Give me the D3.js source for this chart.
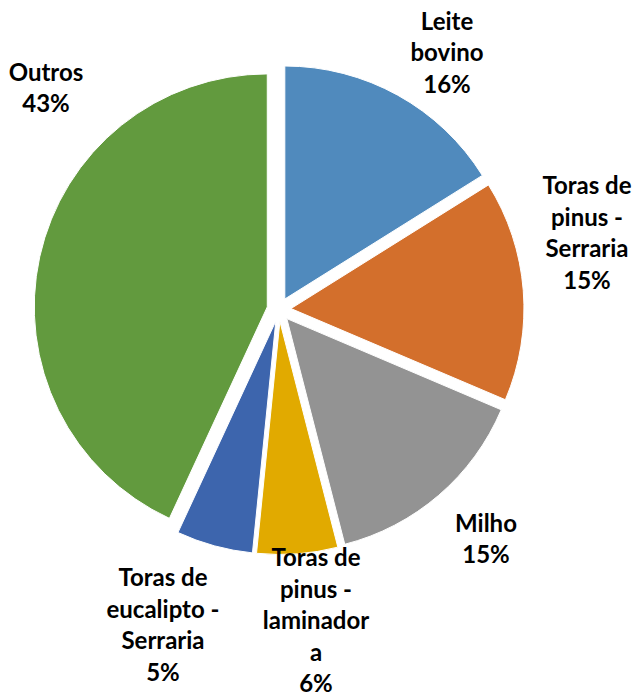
<!DOCTYPE html>
<html>
<head>
<meta charset="utf-8">
<script src="https://cdn.jsdelivr.net/npm/d3@7"></script>
<style>
  html, body { margin: 0; padding: 0; background: #fff; }
  svg { display: block; }
</style>
</head>
<body>
<svg id="chart" width="634" height="697"></svg>
<script>
// ---- data ----
const categories = [
  "Leite bovino",
  "Toras de pinus - Serraria",
  "Milho",
  "Toras de pinus - laminadora",
  "Toras de eucalipto - Serraria",
  "Outros"
];
// label text lines as wrapped in the original
const labelLines = [
  ["Leite", "bovino"],
  ["Toras de", "pinus -", "Serraria"],
  ["Milho"],
  ["Toras de", "pinus -", "laminador", "a"],
  ["Toras de", "eucalipto -", "Serraria"],
  ["Outros"]
];
const values = [16.1, 15.3, 14.6, 5.6, 5.3, 43.1];
const colors = ["#508ABD", "#D36F2C", "#939393", "#E1AA00", "#3D65AD", "#629A3E"];

// ---- layout ----
const W = 634, H = 697;
const cx = 279, cy = 309.5, R = 233, explode = 12;
const fontSize = 24, lineH = 31.5;
// label block centres (Excel best-fit placement)
const labelCenters = [[447, 53], [587, 233], [486, 539], [316, 621], [163, 625], [46, 88]];

const svg = d3.select("#chart");
const data = categories.map((c, i) => ({ name: c, value: values[i], lines: labelLines[i], color: colors[i] }));
const total = d3.sum(values);

const pie = d3.pie().sort(null).value(d => d.value).startAngle(0).endAngle(2 * Math.PI);
const arc = d3.arc().innerRadius(0).outerRadius(R);
const arcs = pie(data);

const g = svg.append("g").attr("transform", `translate(${cx},${cy})`);
g.selectAll("path.slice")
  .data(arcs)
  .join("path")
  .attr("class", "slice")
  .attr("d", arc)
  .attr("fill", d => d.data.color)
  .attr("stroke", "#fff")
  .attr("stroke-width", 1)
  .attr("transform", d => {
    const a = (d.startAngle + d.endAngle) / 2;
    return `translate(${explode * Math.sin(a)},${-explode * Math.cos(a)})`;
  });

// labels
const lg = svg.append("g")
  .attr("font-family", "Lato, 'Open Sans', sans-serif")
  .attr("font-weight", "bold")
  .attr("font-size", fontSize)
  .attr("fill", "#000")
  .attr("text-anchor", "middle");

arcs.forEach((d, i) => {
  const lines = d.data.lines.concat([Math.round(d.data.value / total * 100) + "%"]);
  const [lx, ly] = labelCenters[i];
  const n = lines.length;
  const t = lg.append("text");
  lines.forEach((s, k) => {
    t.append("tspan")
      .attr("x", lx)
      .attr("y", ly + (k - (n - 1) / 2) * lineH)
      .attr("dy", "0.35em")
      .text(s);
  });
});
</script>
</body>
</html>
